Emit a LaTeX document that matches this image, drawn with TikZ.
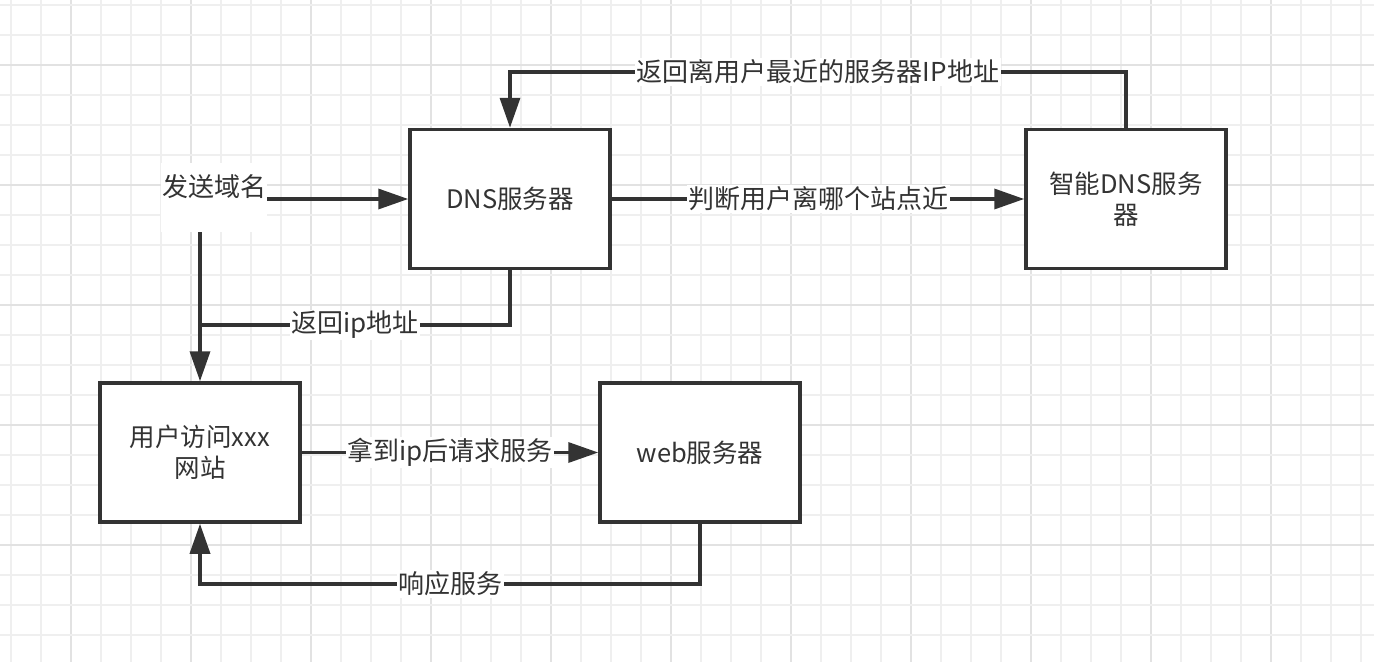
\documentclass[tikz,border=0pt]{standalone}
\usepackage{fontspec}
\newfontfamily\cjk{Noto Sans CJK SC}
\usetikzlibrary{arrows.meta}
\definecolor{ink}{HTML}{333333}
\definecolor{gridminor}{HTML}{EFEFEF}
\definecolor{gridmajor}{HTML}{E2E2E2}
\begin{document}
\begin{tikzpicture}[x=1pt,y=-1pt,
  txtfont/.style={font=\cjk\fontsize{25.5}{31}\selectfont, text=ink},
  lblfont/.style={font=\cjk\fontsize{26}{31}\selectfont, text=ink},
  box/.style={draw=ink, line width=3.5pt, fill=white, minimum width=200pt,
    minimum height=139pt, inner sep=0pt, align=center, txtfont},
  lbl/.style={fill=white, inner sep=1.5pt, lblfont},
  sendbox/.style={fill=white, inner sep=0pt, outer sep=0pt, minimum width=106pt,
    text height=33.5pt, text depth=35.5pt, lblfont},
  conn/.style={draw=ink, line width=3.5pt},
  arr/.style={conn, -{Triangle[length=30pt,width=20pt]}},
  gminor/.style={draw=gridminor, line width=1.5pt},
  gmajor/.style={draw=gridmajor, line width=1.5pt}]
\useasboundingbox (0,0) rectangle (1374,662);
\fill[white] (0,0) rectangle (1374,662);
% grid
\foreach \i in {0,...,45} {
  \pgfmathsetmacro{\xx}{11+30*\i}
  \ifnum\numexpr\i-2-4*((\i+2)/4-1)\relax=0
    \draw[gmajor] (\xx,0) -- (\xx,662);
  \else
    \draw[gminor] (\xx,0) -- (\xx,662);
  \fi
}
\foreach \j in {0,...,22} {
  \pgfmathsetmacro{\yy}{5+30*\j}
  \ifnum\numexpr\j-2-4*((\j+2)/4-1)\relax=0
    \draw[gmajor] (0,\yy) -- (1374,\yy);
  \else
    \draw[gminor] (0,\yy) -- (1374,\yy);
  \fi
}
% nodes
\node[box] (dns) at (510,199) {DNS服务器};
\node[box] (smart) at (1126,199) {智能DNS服务\\器};
\node[box] (user) at (200,452.5) {用户访问xxx\\网站};
\node[box] (web) at (700,452.5) {web服务器};
\node[sendbox, anchor=base] (send) at (214,196.5) {发送域名};
\coordinate (top) at (0,72);
\coordinate (ret) at (0,325);
\coordinate (bot) at (0,584);
% connectors
\draw[arr] (send.east |- dns.west) -- (dns.west);
\draw[arr] (send.south -| user.north) -- (user.north);
\draw[conn] (dns.south) -- (dns.south |- ret) -- node[lbl]{返回ip地址} (user.north |- ret);
\draw[arr] (dns.east) -- node[lbl]{判断用户离哪个站点近} (smart.west);
\draw[arr] (smart.north) -- (smart.north |- top) -- node[lbl]{返回离用户最近的服务器IP地址} (dns.north |- top) -- (dns.north);
\draw[arr] (user.east) -- node[lbl]{拿到ip后请求服务} (web.west);
\draw[arr] (web.south) -- (web.south |- bot) -- node[lbl]{响应服务} (user.south |- bot) -- (user.south);
\end{tikzpicture}
\end{document}
